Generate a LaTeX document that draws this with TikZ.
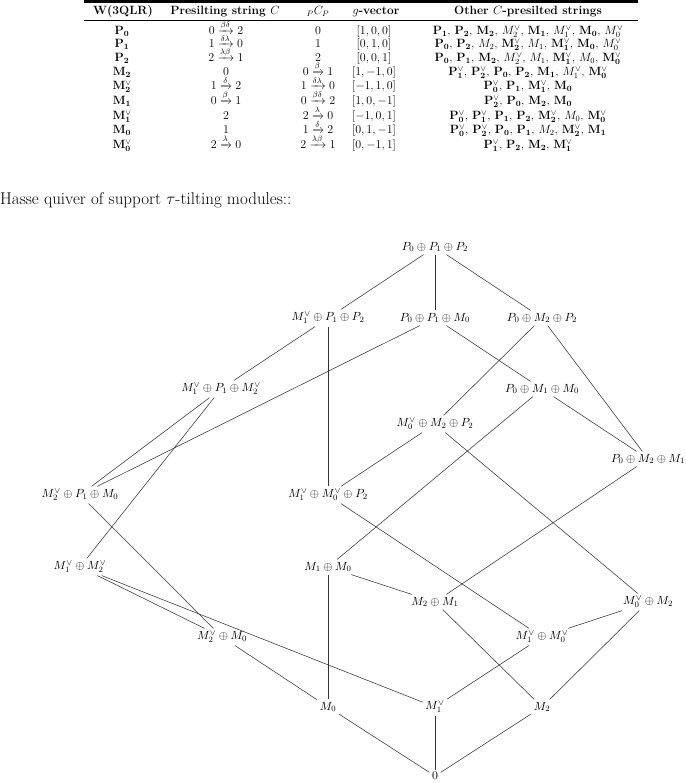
\RequirePackage{fix-cm}
\documentclass[tikz,border=0pt]{standalone}
\usepackage{amsmath,amssymb}
\newcommand{\BP}[1]{\mathbf{P}_{\mathbf{#1}}}
\newcommand{\BPv}[1]{\mathbf{P}_{\mathbf{#1}}^{\vee}}
\newcommand{\BM}[1]{\mathbf{M}_{\mathbf{#1}}}
\newcommand{\BMv}[1]{\mathbf{M}_{\mathbf{#1}}^{\vee}}
\newcommand{\IM}[1]{M_{#1}}
\newcommand{\IMv}[1]{M_{#1}^{\vee}}
\begin{document}
\begin{tikzpicture}[x=1pt,y=-1pt,
  tab/.style={font=\fontsize{12}{14}\selectfont, inner sep=0pt, text height=8pt, text depth=3pt},
  hn/.style={font=\fontsize{11.8}{14}\selectfont, inner sep=2.5pt},
  ed/.style={draw=black!80, line width=0.55pt}]
\useasboundingbox (0,0) rectangle (685,783);
% ---------- table ----------
\draw[line width=3.2pt] (84,1.6) -- (638,1.6);
\draw[line width=1.8pt] (84,20.5) -- (638,20.5);
\node[tab] (h1) at (123,12) {\textbf{W(3QLR)}};
\node[tab] (h2) at (225,12) {\textbf{Presilting string $C$}};
\node[tab] (h3) at (318,12) {${}_{P}C_{P}$};
\node[tab] (h4) at (376,12) {\textbf{$g$-vector}};
\node[tab] (h5) at (528,12) {\textbf{Other $C$-presilted strings}};
% rows
\node[tab] (r1a) at (122,32) {$\BP{0}$};
\node[tab] (r1b) at (226,32) {$0\xrightarrow{\beta\delta}2$};
\node[tab] (r1c) at (318,32) {$0$};
\node[tab] (r1d) at (374,32) {$[1,0,0]$};
\node[tab] (r1e) at (528,32) {$\BP{1}$, $\BP{2}$, $\BM{2}$, $\IMv{2}$, $\BM{1}$, $\IMv{1}$, $\BM{0}$, $\IMv{0}$};
\node[tab] (r2a) at (122,45.5) {$\BP{1}$};
\node[tab] (r2b) at (226,45.5) {$1\xrightarrow{\delta\lambda}0$};
\node[tab] (r2c) at (318,45.5) {$1$};
\node[tab] (r2d) at (374,45.5) {$[0,1,0]$};
\node[tab] (r2e) at (528,45.5) {$\BP{0}$, $\BP{2}$, $\IM{2}$, $\BMv{2}$, $\IM{1}$, $\BMv{1}$, $\BM{0}$, $\IMv{0}$};
\node[tab] (r3a) at (122,59) {$\BP{2}$};
\node[tab] (r3b) at (226,59) {$2\xrightarrow{\lambda\beta}1$};
\node[tab] (r3c) at (318,59) {$2$};
\node[tab] (r3d) at (374,59) {$[0,0,1]$};
\node[tab] (r3e) at (528,59) {$\BP{0}$, $\BP{1}$, $\BM{2}$, $\IMv{2}$, $\IM{1}$, $\BMv{1}$, $\IM{0}$, $\BMv{0}$};
\node[tab] (r4a) at (122,73) {$\BM{2}$};
\node[tab] (r4b) at (226,73) {$0$};
\node[tab] (r4c) at (318,73) {$0\xrightarrow{\beta}1$};
\node[tab] (r4d) at (374,73) {$[1,-1,0]$};
\node[tab] (r4e) at (528,73) {$\BPv{1}$, $\BPv{2}$, $\BP{0}$, $\BP{2}$, $\BM{1}$, $\IMv{1}$, $\BMv{0}$};
\node[tab] (r5a) at (122,87.5) {$\BMv{2}$};
\node[tab] (r5b) at (226,87.5) {$1\xrightarrow{\delta}2$};
\node[tab] (r5c) at (318,87.5) {$1\xrightarrow{\delta\lambda}0$};
\node[tab] (r5d) at (374,87.5) {$[-1,1,0]$};
\node[tab] (r5e) at (528,87.5) {$\BPv{0}$, $\BP{1}$, $\BMv{1}$, $\BM{0}$};
\node[tab] (r6a) at (122,102) {$\BM{1}$};
\node[tab] (r6b) at (226,102) {$0\xrightarrow{\beta}1$};
\node[tab] (r6c) at (318,102) {$0\xrightarrow{\beta\delta}2$};
\node[tab] (r6d) at (374,102) {$[1,0,-1]$};
\node[tab] (r6e) at (528,102) {$\BPv{2}$, $\BP{0}$, $\BM{2}$, $\BM{0}$};
\node[tab] (r7a) at (122,117) {$\BMv{1}$};
\node[tab] (r7b) at (226,117) {$2$};
\node[tab] (r7c) at (318,117) {$2\xrightarrow{\lambda}0$};
\node[tab] (r7d) at (374,117) {$[-1,0,1]$};
\node[tab] (r7e) at (528,117) {$\BPv{0}$, $\BPv{1}$, $\BP{1}$, $\BP{2}$, $\BMv{2}$, $\IM{0}$, $\BMv{0}$};
\node[tab] (r8a) at (122,131.5) {$\BM{0}$};
\node[tab] (r8b) at (226,131.5) {$1$};
\node[tab] (r8c) at (318,131.5) {$1\xrightarrow{\delta}2$};
\node[tab] (r8d) at (374,131.5) {$[0,1,-1]$};
\node[tab] (r8e) at (528,131.5) {$\BPv{0}$, $\BPv{2}$, $\BP{0}$, $\BP{1}$, $\IM{2}$, $\BMv{2}$, $\BM{1}$};
\node[tab] (r9a) at (122,146) {$\BMv{0}$};
\node[tab] (r9b) at (226,146) {$2\xrightarrow{\lambda}0$};
\node[tab] (r9c) at (318,146) {$2\xrightarrow{\lambda\beta}1$};
\node[tab] (r9d) at (374,146) {$[0,-1,1]$};
\node[tab] (r9e) at (528,146) {$\BPv{1}$, $\BP{2}$, $\BM{2}$, $\BMv{1}$};
% ---------- caption ----------
\node[anchor=west, inner sep=0pt, font=\fontsize{17}{20}\selectfont] (title) at (0,200) {Hasse quiver of support $\tau$-tilting modules::};
% ---------- Hasse quiver ----------
\node[hn] (ppp) at (435,247) {$P_0\oplus P_1\oplus P_2$};
\node[hn] (a1) at (328,318) {$M_1^{\vee}\oplus P_1\oplus P_2$};
\node[hn] (a2) at (435,318) {$P_0\oplus P_1\oplus M_0$};
\node[hn] (a3) at (542,318) {$P_0\oplus M_2\oplus P_2$};
\node[hn] (b1) at (221,389) {$M_1^{\vee}\oplus P_1\oplus M_2^{\vee}$};
\node[hn] (b2) at (542,389) {$P_0\oplus M_1\oplus M_0$};
\node[hn] (c) at (435,424) {$M_0^{\vee}\oplus M_2\oplus P_2$};
\node[hn] (d) at (648,459) {$P_0\oplus M_2\oplus M_1$};
\node[hn] (e1) at (80,495) {$M_2^{\vee}\oplus P_1\oplus M_0$};
\node[hn] (e2) at (328,495) {$M_1^{\vee}\oplus M_0^{\vee}\oplus P_2$};
\node[hn] (f1) at (80,567) {$M_1^{\vee}\oplus M_2^{\vee}$};
\node[hn] (f2) at (328,567) {$M_1\oplus M_0$};
\node[hn] (g1) at (435,602) {$M_2\oplus M_1$};
\node[hn] (g2) at (648,602) {$M_0^{\vee}\oplus M_2$};
\node[hn] (h1) at (222,637) {$M_2^{\vee}\oplus M_0$};
\node[hn] (h2) at (542,637) {$M_1^{\vee}\oplus M_0^{\vee}$};
\node[hn] (i0) at (328,707) {$M_0$};
\node[hn] (i1) at (435,707) {$M_1^{\vee}$};
\node[hn] (i2) at (542,707) {$M_2$};
\node[hn] (z) at (435,776) {$0$};
\foreach \s/\t in {ppp/a1, ppp/a2, ppp/a3, a1/b1, a1/e2, a2/e1, a2/b2, a3/c, a3/d,
  b1/e1, b1/f1, b2/f2, b2/d, c/e2, c/g2, d/g1, e1/h1, e2/h2, f1/h1, f1/i1,
  f2/g1, f2/i0, g1/i2, g2/h2, g2/i2, h2/i1, h1/i0, i0/z, i1/z, i2/z}
  \draw[ed] (\s) -- (\t);
\end{tikzpicture}
\end{document}
